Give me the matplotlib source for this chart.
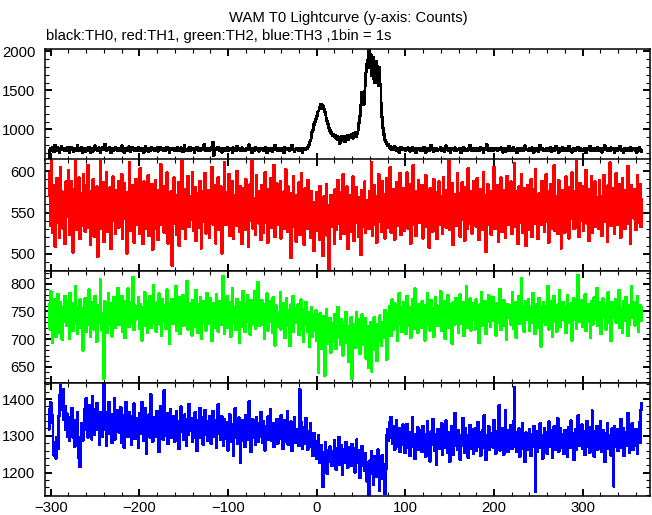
import numpy as np
import matplotlib
matplotlib.use("Agg")
import matplotlib.pyplot as plt
from matplotlib.ticker import MultipleLocator

plt.rcParams["font.family"] = ["Liberation Sans", "DejaVu Sans"]

# WAM T0 light curves, 1 s bins starting at t = -302 s
t_start = -302
bin_s = 1

th0 = [
    560, 728, 761, 742, 770, 751, 712, 801, 746, 731, 765, 752, 703, 748, 783, 741, 736, 759, 727, 754,
    744, 769, 733, 701, 756, 772, 740, 749, 717, 762, 735, 758, 798, 739, 726, 751, 745, 768, 708, 757,
    741, 719, 763, 748, 734, 776, 752, 706, 745, 760, 722, 747, 791, 738, 755, 733, 764, 742, 699, 750,
    766, 737, 748, 812, 743, 725, 758, 739, 769, 751, 705, 746, 762, 727, 754, 775, 741, 735, 759, 744,
    728, 753, 790, 736, 747, 702, 761, 743, 732, 757, 778, 740, 711, 750, 766, 738, 745, 729, 762, 749,
    735, 771, 744, 726, 758, 740, 763, 707, 752, 786, 737, 748, 720, 759, 745, 733, 767, 742, 756, 730,
    752, 739, 764, 721, 747, 773, 736, 755, 742, 728, 760, 749, 734, 769, 743, 757, 698, 746, 763, 738,
    747, 760, 729, 753, 741, 776, 735, 750, 724, 765, 744, 710, 758, 792, 739, 748, 726, 754, 740, 767,
    733, 749, 761, 738, 702, 756, 745, 770, 734, 751, 763, 729, 746, 737, 759, 806, 741, 725, 752, 744,
    758, 730, 747, 766, 739, 837, 667, 744, 761, 736, 749, 774, 732, 757, 743, 709, 762, 748, 735, 755,
    741, 768, 726, 750, 737, 759, 745, 703, 764, 740, 752, 731, 789, 746, 738, 757, 729, 748, 765, 734,
    750, 727, 743, 762, 736, 755, 803, 739, 747, 704, 760, 742, 733, 768, 751, 737, 756, 721, 745, 763,
    738, 754, 731, 747, 769, 742, 706, 758, 744, 735, 762, 749, 717, 753, 740, 794, 736, 751, 728, 757,
    745, 731, 760, 739, 752, 705, 767, 743, 736, 758, 748, 729, 755, 741, 798, 737, 750, 722, 746, 761,
    739, 754, 727, 748, 763, 735, 709, 752, 741, 760, 748, 757, 773, 792, 831, 862, 889, 968, 991, 1062,
    1093, 1130, 1171, 1214, 1236, 1279, 1262, 1322, 1296, 1305, 1268, 1232, 1194, 1142, 1104, 1062, 1021, 988, 962, 947,
    925, 938, 904, 921, 889, 912, 870, 896, 823, 878, 905, 861, 894, 917, 842, 903, 885, 926, 871, 909,
    893, 932, 914, 887, 946, 921, 958, 905, 949, 998, 1087, 1176, 1312, 1478, 1395, 1322, 1487, 1561, 1734, 1842,
    1883, 2046, 1794, 1962, 1688, 1745, 1918, 1642, 1597, 1873, 1811, 1604, 1562, 1790, 1579, 1338, 1156, 1021, 934, 868,
    842, 815, 788, 803, 761, 779, 747, 768, 739, 757, 782, 744, 731, 763, 748, 705, 756, 771, 738, 749,
    743, 760, 728, 751, 737, 766, 745, 722, 754, 740, 771, 733, 748, 759, 706, 744, 762, 736, 750, 729,
    757, 741, 734, 768, 746, 703, 752, 739, 761, 730, 745, 796, 738, 749, 719, 755, 742, 763, 731, 747,
    736, 752, 766, 729, 743, 758, 721, 747, 790, 738, 733, 755, 744, 706, 761, 740, 751, 735, 764, 742,
    728, 749, 737, 760, 745, 698, 754, 741, 767, 732, 750, 738, 726, 759, 746, 793, 735, 743, 757, 730,
    746, 763, 731, 740, 755, 727, 748, 769, 736, 744, 701, 757, 739, 752, 806, 734, 745, 728, 760, 741,
    753, 730, 744, 762, 737, 749, 725, 758, 742, 736, 765, 747, 709, 754, 740, 718, 757, 744, 733, 781,
    739, 756, 727, 745, 768, 734, 750, 741, 703, 759, 746, 733, 762, 738, 751, 727, 748, 790, 736, 743,
    748, 725, 757, 740, 733, 764, 745, 706, 752, 738, 761, 742, 719, 750, 796, 737, 744, 758, 731, 749,
    735, 760, 743, 726, 751, 738, 767, 712, 746, 755, 729, 742, 783, 737, 748, 702, 756, 741, 734, 766,
    744, 731, 752, 747, 724, 758, 740, 789, 735, 749, 707, 753, 742, 760, 730, 745, 738, 771, 743, 728,
    756, 739, 745, 730, 762, 748, 701, 754, 737, 743, 786, 733, 750, 741, 725, 759, 746, 735, 752, 767,
    732, 747, 758, 741, 708, 753, 744, 796, 736, 749, 723, 757, 740, 731, 764, 745, 738, 751, 706, 760,
    742, 729, 755, 738, 787, 746, 733, 750, 701, 744, 759, 735, 748, 762, 730, 741, 776, 727, 745, 739,
    761, 734, 748, 705, 752, 743, 766, 731, 740, 716,
]

th1 = [
    571, 598, 534, 612, 526, 583, 547, 509, 566, 591, 538, 557, 520, 604, 549, 575, 531, 562, 512, 587,
    545, 569, 601, 523, 556, 588, 537, 502, 578, 551, 616, 529, 564, 543, 592, 518, 573, 555, 534, 596,
    561, 527, 583, 549, 607, 532, 568, 511, 576, 544, 590, 521, 559, 538, 581, 497, 566, 553, 614, 530,
    548, 586, 515, 572, 541, 599, 527, 563, 535, 580, 506, 557, 593, 540, 569, 524, 577, 549, 532, 588,
    567, 533, 596, 519, 558, 585, 543, 574, 501, 562, 539, 611, 528, 571, 547, 583, 514, 556, 590, 536,
    552, 579, 524, 603, 541, 566, 512, 587, 548, 530, 574, 557, 595, 522, 561, 538, 584, 505, 569, 546,
    589, 531, 560, 517, 577, 543, 608, 535, 564, 551, 526, 582, 540, 598, 513, 567, 554, 529, 575, 486,
    558, 592, 537, 571, 523, 549, 586, 510, 565, 542, 617, 530, 557, 578, 519, 563, 545, 594, 533, 570,
    541, 566, 599, 528, 555, 580, 516, 573, 547, 532, 588, 561, 507, 576, 550, 539, 597, 525, 568, 544,
    577, 520, 563, 548, 605, 536, 559, 583, 513, 570, 546, 592, 529, 557, 581, 501, 566, 540, 610, 553,
    535, 574, 551, 596, 522, 562, 543, 587, 518, 571, 556, 534, 600, 547, 565, 527, 582, 558, 512, 579,
    564, 529, 590, 545, 572, 509, 557, 584, 540, 613, 531, 567, 551, 523, 595, 548, 576, 537, 562, 517,
    583, 550, 526, 569, 598, 538, 561, 514, 578, 553, 591, 532, 566, 544, 607, 521, 559, 585, 536, 572,
    547, 588, 519, 563, 541, 575, 530, 602, 556, 527, 581, 549, 568, 495, 573, 542, 594, 533, 560, 515,
    571, 544, 586, 523, 558, 597, 536, 565, 511, 579, 552, 530, 589, 546, 567, 520, 576, 539, 562, 504,
    553, 528, 574, 541, 563, 517, 582, 535, 556, 498, 569, 546, 531, 584, 522, 558, 476, 547, 571, 533,
    540, 566, 512, 578, 529, 551, 589, 537, 560, 518, 574, 543, 596, 524, 557, 534, 581, 506, 563, 548,
    527, 571, 549, 593, 516, 562, 538, 580, 554, 521, 568, 545, 499, 577, 533, 559, 587, 526, 552, 541,
    565, 530, 576, 547, 611, 522, 558, 583, 536, 569, 514, 552, 596, 539, 563, 527, 588, 545, 572, 519,
    556, 591, 532, 569, 548, 604, 526, 563, 541, 578, 517, 555, 586, 534, 570, 549, 597, 523, 561, 544,
    579, 528, 564, 543, 598, 531, 557, 584, 512, 570, 546, 607, 535, 561, 522, 576, 550, 589, 538, 566,
    541, 583, 519, 562, 547, 595, 533, 571, 555, 508, 579, 544, 566, 527, 590, 552, 537, 574, 518, 563,
    587, 536, 569, 550, 524, 592, 545, 561, 532, 577, 555, 614, 529, 566, 543, 585, 511, 572, 548, 534,
    560, 597, 538, 573, 521, 556, 586, 542, 567, 516, 580, 549, 531, 603, 558, 537, 575, 525, 562, 588,
    545, 570, 533, 591, 552, 517, 578, 546, 563, 529, 599, 540, 571, 503, 557, 584, 536, 565, 548, 523,
    576, 541, 605, 530, 560, 547, 583, 515, 568, 554, 592, 527, 562, 539, 577, 520, 556, 594, 535, 569,
    550, 587, 524, 566, 542, 609, 533, 575, 548, 512, 581, 557, 538, 596, 526, 563, 545, 579, 510, 558,
    583, 529, 567, 544, 590, 521, 556, 578, 537, 602, 547, 565, 518, 573, 551, 535, 588, 542, 569, 527,
    561, 596, 539, 575, 514, 552, 584, 531, 563, 546, 607, 528, 570, 555, 524, 589, 541, 567, 507, 577,
    548, 572, 526, 593, 557, 535, 580, 519, 564, 543, 598, 552, 530, 576, 545, 612, 532, 559, 521, 585,
    566, 540, 582, 528, 571, 554, 601, 537, 563, 516, 578, 549, 594, 526, 560, 543, 587, 533, 568, 551,
    531, 589, 547, 570, 522, 561, 595, 539, 574, 548, 515, 583, 556, 610, 534, 567, 543, 579, 525, 562,
    597, 535, 563, 546, 584, 520, 558, 591, 541, 569, 530, 577, 552, 606, 537, 566, 512, 583, 548, 572,
    543, 578, 529, 561, 595, 538, 557, 584, 533, 566,
]

th2 = [
    762, 718, 786, 741, 693, 755, 729, 772, 704, 748, 781, 736, 712, 767, 745, 699, 758, 731, 777, 740,
    724, 769, 746, 701, 783, 737, 752, 715, 764, 728, 795, 743, 709, 758, 734, 771, 721, 749, 680, 756,
    737, 773, 713, 751, 726, 789, 742, 704, 766, 733, 757, 718, 778, 745, 696, 761, 730, 752, 807, 739,
    716, 747, 629, 768, 735, 758, 711, 783, 742, 727, 764, 705, 751, 776, 733, 720, 761, 744, 792, 726,
    759, 731, 778, 714, 745, 769, 702, 756, 738, 791, 722, 750, 766, 729, 743, 812, 717, 760, 736, 754,
    740, 775, 719, 762, 733, 698, 757, 746, 784, 725, 768, 711, 749, 735, 777, 721, 755, 742, 797, 730,
    753, 714, 766, 739, 782, 727, 745, 706, 771, 748, 731, 760, 719, 789, 743, 757, 692, 764, 737, 772,
    728, 761, 744, 796, 715, 752, 737, 775, 709, 758, 743, 779, 724, 767, 732, 750, 805, 718, 746, 765,
    741, 707, 770, 734, 756, 723, 788, 747, 712, 762, 739, 776, 701, 751, 730, 768, 744, 716, 783, 735,
    759, 728, 773, 742, 697, 765, 736, 754, 720, 781, 745, 713, 769, 733, 757, 726, 814, 740, 710, 763,
    734, 777, 721, 750, 766, 705, 744, 791, 729, 758, 740, 717, 772, 736, 753, 694, 767, 745, 722, 786,
    748, 713, 764, 732, 779, 741, 756, 708, 770, 727, 761, 744, 786, 719, 752, 738, 803, 724, 759, 735,
    770, 726, 753, 700, 763, 745, 782, 716, 739, 768, 731, 756, 711, 775, 742, 689, 760, 734, 749, 722,
    743, 785, 718, 757, 730, 764, 702, 748, 773, 725, 751, 739, 688, 762, 736, 778, 714, 746, 729, 755,
    731, 762, 708, 745, 771, 719, 740, 696, 754, 727, 767, 735, 713, 749, 686, 738, 758, 704, 730, 743,
    715, 751, 697, 733, 640, 722, 746, 683, 728, 709, 741, 634, 718, 753, 692, 727, 705, 738, 676, 714,
    729, 696, 744, 711, 682, 725, 758, 703, 719, 690, 736, 714, 671, 731, 707, 749, 694, 722, 660, 717,
    706, 739, 628, 714, 695, 727, 685, 748, 711, 699, 735, 673, 720, 744, 690, 716, 701, 738, 665, 709,
    723, 648, 696, 731, 642, 712, 704, 739, 681, 718, 661, 726, 697, 742, 709, 688, 731, 703, 719, 752,
    728, 663, 747, 720, 759, 734, 706, 771, 742, 718, 765, 731, 753, 697, 744, 782, 726, 757, 713, 738,
    766, 732, 750, 709, 778, 741, 725, 758, 703, 746, 772, 736, 719, 791, 744, 757, 712, 763, 730, 749,
    721, 768, 739, 754, 698, 761, 745, 783, 727, 752, 716, 770, 738, 756, 705, 747, 775, 733, 760, 724,
    757, 740, 786, 715, 748, 731, 769, 701, 755, 742, 779, 720, 763, 735, 751, 692, 766, 744, 727, 774,
    738, 762, 711, 749, 780, 728, 743, 767, 706, 754, 733, 796, 721, 758, 740, 773, 716, 751, 735, 764,
    745, 718, 771, 737, 756, 694, 762, 748, 784, 724, 750, 739, 768, 710, 757, 731, 779, 743, 722, 760,
    733, 776, 744, 752, 707, 765, 729, 757, 741, 790, 717, 754, 736, 770, 725, 748, 699, 763, 739, 756,
    761, 727, 749, 784, 719, 742, 766, 703, 755, 738, 777, 728, 751, 810, 733, 759, 714, 745, 769, 736,
    748, 772, 716, 757, 741, 730, 783, 746, 709, 763, 735, 752, 721, 774, 744, 687, 758, 732, 766, 740,
    726, 759, 743, 795, 718, 750, 737, 768, 704, 755, 778, 731, 746, 714, 762, 739, 788, 723, 751, 745,
    767, 734, 758, 711, 744, 779, 729, 753, 740, 764, 698, 748, 773, 736, 757, 719, 746, 816, 732, 760,
    741, 770, 722, 754, 738, 781, 715, 749, 763, 731, 756, 702, 768, 743, 727, 775, 750, 735, 792, 724,
    758, 736, 766, 709, 749, 773, 741, 755, 718, 762, 745, 784, 729, 753, 697, 767, 738, 757, 743, 771,
    730, 763, 747, 788, 721, 756, 740, 712, 769, 751, 733, 776, 745, 706, 760, 727, 753, 795, 739, 748,
    766, 725, 752, 737, 778, 714, 744, 761, 733, 757,
]

th3 = [
    1318, 1372, 1391, 1336, 1355, 1264, 1247, 1281, 1239, 1296, 1264, 1352, 1410, 1437, 1398, 1372, 1426, 1343, 1381, 1317,
    1360, 1298, 1335, 1287, 1349, 1312, 1376, 1296, 1331, 1270, 1342, 1305, 1364, 1289, 1241, 1216, 1297, 1334, 1288, 1322,
    1371, 1318, 1402, 1339, 1296, 1384, 1327, 1359, 1291, 1408, 1345, 1303, 1372, 1334, 1389, 1316, 1351, 1277, 1363, 1330,
    1297, 1352, 1443, 1318, 1346, 1274, 1365, 1337, 1392, 1306, 1328, 1281, 1359, 1324, 1403, 1291, 1343, 1312, 1370, 1335,
    1309, 1377, 1281, 1334, 1356, 1267, 1322, 1391, 1346, 1298, 1315, 1363, 1338, 1276, 1354, 1320, 1387, 1293, 1331, 1348,
    1322, 1269, 1361, 1305, 1343, 1392, 1316, 1287, 1338, 1374, 1251, 1329, 1310, 1358, 1296, 1412, 1327, 1284, 1350, 1313,
    1341, 1298, 1367, 1321, 1256, 1335, 1380, 1307, 1349, 1290, 1423, 1326, 1301, 1362, 1278, 1345, 1316, 1371, 1294, 1333,
    1307, 1353, 1285, 1328, 1366, 1299, 1340, 1264, 1318, 1379, 1311, 1336, 1290, 1357, 1322, 1273, 1345, 1304, 1386, 1327,
    1315, 1348, 1283, 1332, 1296, 1364, 1321, 1259, 1342, 1309, 1376, 1295, 1328, 1351, 1277, 1313, 1369, 1302, 1337, 1288,
    1339, 1305, 1354, 1279, 1326, 1367, 1298, 1343, 1312, 1268, 1334, 1386, 1306, 1321, 1289, 1352, 1317, 1274, 1345, 1329,
    1293, 1337, 1261, 1319, 1358, 1302, 1284, 1331, 1247, 1315, 1374, 1296, 1323, 1278, 1349, 1310, 1228, 1306, 1341, 1287,
    1322, 1270, 1356, 1301, 1336, 1289, 1394, 1312, 1257, 1328, 1344, 1296, 1318, 1276, 1351, 1305, 1283, 1334, 1299, 1365,
    1304, 1281, 1340, 1316, 1261, 1327, 1299, 1352, 1289, 1314, 1372, 1286, 1308, 1335, 1270, 1321, 1296, 1346, 1279, 1311,
    1328, 1292, 1355, 1307, 1264, 1319, 1343, 1285, 1302, 1366, 1276, 1313, 1298, 1338, 1259, 1316, 1294, 1351, 1282, 1306,
    1289, 1318, 1274, 1426, 1301, 1337, 1266, 1295, 1322, 1280, 1348, 1290, 1263, 1311, 1286, 1334, 1272, 1299, 1245, 1307,
    1268, 1284, 1237, 1259, 1301, 1226, 1248, 1275, 1232, 1162, 1256, 1214, 1283, 1243, 1198, 1261, 1229, 1270, 1246, 1218,
    1257, 1231, 1288, 1244, 1209, 1266, 1239, 1297, 1222, 1251, 1274, 1195, 1248, 1262, 1227, 1283, 1240, 1213, 1269, 1236,
    1252, 1218, 1277, 1243, 1265, 1201, 1236, 1289, 1254, 1227, 1261, 1185, 1247, 1271, 1219, 1238, 1206, 1253, 1229, 1176,
    1214, 1139, 1232, 1197, 1258, 1221, 1168, 1243, 1205, 1236, 1189, 1262, 1217, 1150, 1228, 1199, 1246, 1183, 1223, 1142,
    1210, 1302, 1318, 1287, 1336, 1296, 1351, 1308, 1279, 1325, 1262, 1314, 1343, 1291, 1272, 1320, 1256, 1301, 1285, 1330,
    1276, 1314, 1253, 1297, 1332, 1268, 1290, 1245, 1309, 1283, 1351, 1271, 1296, 1238, 1305, 1279, 1322, 1262, 1288, 1316,
    1294, 1257, 1327, 1281, 1304, 1243, 1285, 1339, 1270, 1298, 1231, 1311, 1276, 1346, 1289, 1260, 1303, 1222, 1284, 1318,
    1265, 1301, 1278, 1334, 1250, 1293, 1312, 1269, 1341, 1287, 1254, 1308, 1229, 1280, 1326, 1291, 1248, 1305, 1362, 1274,
    1297, 1262, 1315, 1284, 1236, 1302, 1273, 1348, 1289, 1255, 1320, 1278, 1301, 1241, 1286, 1329, 1264, 1296, 1318, 1251,
    1283, 1321, 1259, 1294, 1337, 1270, 1308, 1246, 1287, 1314, 1268, 1355, 1292, 1235, 1301, 1277, 1326, 1263, 1298, 1280,
    1306, 1269, 1343, 1288, 1252, 1311, 1275, 1296, 1382, 1261, 1304, 1283, 1321, 1249, 1293, 1370, 1278, 1316, 1257, 1299,
    1285, 1328, 1264, 1297, 1340, 1433, 1272, 1310, 1256, 1289, 1319, 1243, 1302, 1281, 1335, 1266, 1294, 1230, 1308, 1277,
    1299, 1263, 1317, 1286, 1245, 1304, 1271, 1326, 1290, 1148, 1312, 1258, 1296, 1281, 1333, 1267, 1301, 1239, 1288, 1320,
    1276, 1309, 1252, 1294, 1338, 1270, 1287, 1315, 1241, 1298, 1326, 1263, 1305, 1282, 1347, 1257, 1291, 1320, 1268, 1303,
    1287, 1251, 1316, 1279, 1300, 1243, 1324, 1292, 1267, 1341, 1278, 1306, 1234, 1289, 1318, 1262, 1297, 1355, 1273, 1308,
    1281, 1330, 1264, 1296, 1313, 1248, 1287, 1339, 1271, 1302, 1255, 1322, 1290, 1368, 1277, 1244, 1311, 1285, 1326, 1262,
    1298, 1272, 1340, 1283, 1256, 1315, 1293, 1229, 1307, 1278, 1335, 1266, 1301, 1288, 1247, 1319, 1294, 1163, 1325, 1270,
    1291, 1317, 1259, 1304, 1282, 1346, 1268, 1297, 1321, 1245, 1286, 1310, 1274, 1362, 1289, 1253, 1308, 1279, 1334, 1262,
    1296, 1273, 1318, 1289, 1251, 1306, 1337, 1282, 1370, 1389,
]

series = [th0, th1, th2, th3]
colors = ["black", "#ff0000", "#00ff00", "#0000ff"]
ylims = [(615, 2030), (480, 614), (620, 824), (1137, 1443)]
y_major = [500, 50, 50, 100]
y_minor = [100, 10, 10, 20]

W, H = 652, 515
fig = plt.figure(figsize=(W / 100, H / 100), dpi=100)

# panel edges in pixels (top, bottom)
x0, x1 = 45, 650
edges = [49, 159.5, 270.5, 383.3, 495.7]

axes = []
for i, vals in enumerate(series):
    top, bot = edges[i], edges[i + 1]
    ax = fig.add_axes([x0 / W, 1 - bot / H, (x1 - x0) / W, (bot - top) / H])
    t = t_start + bin_s * np.arange(len(vals))
    ax.plot(t, vals, color=colors[i], lw=1.3, drawstyle="steps-mid",
            antialiased=False)
    ax.set_xlim(-306.5, 376)
    ax.set_ylim(*ylims[i])
    ax.xaxis.set_major_locator(MultipleLocator(100))
    ax.xaxis.set_minor_locator(MultipleLocator(20))
    ax.yaxis.set_major_locator(MultipleLocator(y_major[i]))
    ax.yaxis.set_minor_locator(MultipleLocator(y_minor[i]))
    ax.tick_params(which="both", direction="in", top=True, right=True,
                   labelsize=10.7, colors="black")
    ax.tick_params(which="major", length=5.3, width=1.4, pad=7)
    ax.tick_params(which="minor", length=2.9, width=0.8)
    ax.tick_params(axis="x", pad=4)
    for s in ax.spines.values():
        s.set_linewidth(1.1)
    if i < 3:
        ax.tick_params(axis="x", labelbottom=False)
    axes.append(ax)

fig.text(348 / W, 1 - 18 / H, "WAM T0 Lightcurve (y-axis: Counts)",
         ha="center", va="center", fontsize=10.7)
fig.text(46 / W, 1 - 36 / H, "black:TH0, red:TH1, green:TH2, blue:TH3 ,1bin = 1s",
         ha="left", va="center", fontsize=10.7)

fig.savefig("out.png", dpi=100)
